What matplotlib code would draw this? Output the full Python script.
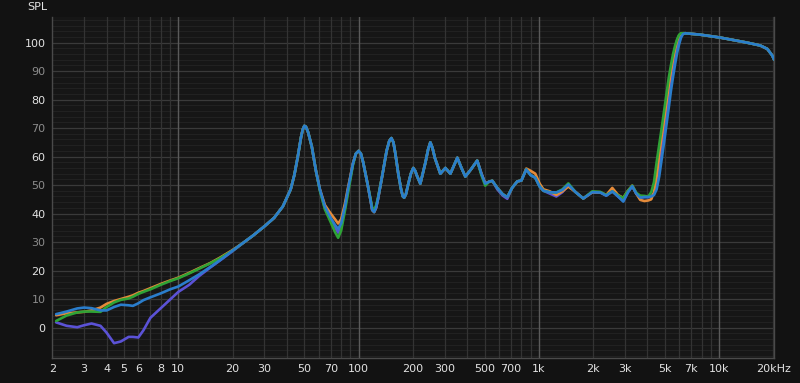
import numpy as np
import matplotlib
matplotlib.use("Agg")
import matplotlib.pyplot as plt

# frequency grid (Hz) shared by all four measurements, one row per band
freq = [2.1, 2.4, 2.75, 3.0, 3.3, 3.7, 4.0, 4.4, 4.8, 5.3, 5.6, 6.0, 6.4, 7.0, 8.0, 9.0,
        10, 11.5, 13, 15, 17, 20, 23, 26, 30, 34, 38, 42, 44, 46, 48, 49, 50, 51, 52.5, 55, 58, 61, 65,
        70, 74, 77, 80, 84, 87, 93, 96.5, 100, 103, 106, 112, 117, 119, 122, 125, 128, 135, 143, 148, 152, 156, 160, 166, 172, 176, 179, 183, 188,
        195, 201, 206, 210, 220, 235, 243, 250, 257, 265, 284, 303, 323, 353, 372, 391, 420, 455, 480, 504,
        530, 552, 588, 630, 668, 710, 759, 800, 851, 900, 955, 1010, 1060, 1150, 1250, 1350,
        1457, 1594, 1763, 1978, 2191, 2365, 2554, 2750, 2939, 3120, 3297, 3470, 3650, 3850,
        4044, 4200, 4350, 4500, 4650, 4800, 4950, 5100, 5250, 5400, 5550, 5700, 5850, 6000,
        6150, 6300, 6500, 7000, 7850, 10100, 14300, 16900, 18500, 19700, 20200]

spl_blue = [4.7, 5.6, 6.7, 7.0, 6.8, 6.0, 6.0, 7.2, 8.0, 7.8, 7.6, 8.5, 9.6, 10.6, 12.0, 13.4,
            14.4, 16.6, 18.6, 21.2, 23.6, 27.0, 29.8, 32.3, 35.5, 38.5, 42.5, 48.5, 53.5, 60, 67, 69.5, 70.8, 70.5, 68.5, 63.5, 55, 48.5, 42.5,
            38.5, 36, 34.6, 36.5, 42.5, 48, 57.5, 61, 62, 61, 58, 50.5, 44, 41.2, 40.5, 42, 45, 53, 62, 65.5, 66.5, 65, 61, 54, 48.5, 46, 45.6, 46.8, 50,
            54, 56, 55, 53.5, 50.5, 58, 62.5, 65, 63, 59.5, 54, 56, 54, 59.6, 56, 53, 55.5, 58.6, 54, 50.5,
            51.2, 51.5, 49, 46.8, 45.8, 49, 51.3, 51.6, 55.5, 53.5, 52.6, 49.5, 48, 47.5, 47.4, 48.3,
            50.2, 47.6, 45.3, 47.5, 47.4, 46.3, 47.8, 46, 44.2, 47.5, 49.6, 47, 45.6, 45.8,
            45.8, 46, 46.5, 48.5, 53, 59, 65, 71, 77, 83, 88, 92.5, 96.5, 99.5,
            101.8, 103, 103.3, 103.1, 102.8, 101.8, 100, 99, 97.8, 95.5, 94]

spl_orange = [4.3, 5.0, 5.3, 5.5, 6.0, 7.0, 8.3, 9.3, 10.0, 10.8, 11.3, 12.2, 12.8, 13.8, 15.3, 16.5,
              17.5, 19.2, 20.8, 22.6, 24.5, 27.2, 29.8, 32.3, 35.5, 38.5, 42.5, 48.5, 53.5, 60, 67, 69.5, 70.8, 70.5, 68.5, 63.5, 55, 48.5, 43,
              40, 38, 36.5, 38, 43.5, 48.5, 57.5, 61, 62, 61, 58, 50.5, 44, 41.2, 40.5, 42, 45, 53, 62, 65.5, 66.5, 65, 61, 54, 48.5, 46, 45.6, 46.8, 50,
              54, 56, 55, 53.5, 50.5, 58, 62.5, 65, 63, 59.5, 54, 56, 54, 59.6, 56, 53, 55.5, 58.6, 54, 50.5,
              51.2, 51.5, 49, 46.8, 45.8, 49, 51.3, 51.6, 55.8, 55, 54, 50.5, 48.5, 47.8, 46.5, 47.8,
              49.5, 47.6, 45.3, 47.5, 47.5, 46.5, 49, 46.5, 45.5, 48, 49.8, 47, 44.8, 44.4,
              44.6, 45, 47.5, 53, 61, 67, 73, 79, 85, 90, 94.5, 98, 100.8, 102.5,
              103.2, 103.3, 103.3, 103.1, 102.8, 101.8, 100, 99, 97.8, 95.5, 94]

spl_green = [2.3, 4.2, 5.3, 5.6, 5.6, 5.5, 7.2, 8.8, 9.7, 10.2, 10.8, 11.8, 12.5, 13.4, 15.0, 16.3,
             17.3, 19.0, 20.6, 22.5, 24.3, 27.0, 29.8, 32.3, 35.5, 38.5, 42.5, 48.5, 53.5, 60, 67, 69.5, 70.8, 70.5, 68.5, 63.5, 55, 48, 41.5,
             37, 33.5, 31.5, 34, 41, 46.5, 57, 61, 62, 61, 58, 50.5, 44.5, 42, 41.5, 42.8, 45.5, 53, 62, 65.5, 66.5, 65, 61, 54, 48.5, 46, 45.6, 46.8, 50,
             54, 56, 55, 53.5, 50.5, 58, 62.5, 65, 63, 59.5, 54, 56, 54, 59.6, 56, 53, 55.5, 58.6, 53.5, 49.8,
             51.2, 51.5, 49, 46.8, 45.8, 49, 51.3, 51.6, 55.5, 53.5, 52.6, 49.5, 48, 47.5, 47.4, 48.5,
             50.6, 47.6, 45.3, 47.8, 47.6, 46.5, 47.8, 46.3, 45.5, 48, 49.8, 47.3, 46.3, 46.2,
             46, 47.5, 51, 58, 64, 70, 76, 82, 87.5, 92, 96, 99, 101.3, 102.8,
             103.3, 103.3, 103.3, 103.1, 102.8, 101.8, 100, 99, 97.8, 95.5, 94]

spl_purple = [1.8, 0.6, 0.1, 0.8, 1.4, 0.6, -1.8, -5.5, -4.9, -3.3, -3.3, -3.5, -1.0, 3.4, 6.8, 9.8,
              12.5, 15.0, 18.0, 21.0, 23.5, 26.8, 29.8, 32.3, 35.5, 38.5, 42.5, 48.5, 53.5, 60, 67, 69.5, 70.8, 70.5, 68.5, 63.5, 55, 48.3, 42,
              38, 35, 33.3, 35.5, 42, 47.5, 57.5, 61, 62, 61, 58, 50.5, 44, 41.4, 40.8, 42.2, 45, 53, 62, 65.5, 66.5, 65, 61, 54, 48.5, 46, 45.6, 46.8, 50,
              54, 56, 55, 53.5, 50.5, 58, 62.5, 65, 63, 59.5, 54, 56, 54, 59.6, 56, 53, 55.5, 58.6, 54, 50.5,
              51.2, 51.5, 48.5, 46.3, 45.2, 49, 51.3, 51.6, 55.5, 53.5, 52.6, 49.5, 48, 47, 46, 47.5,
              50, 47.6, 45.3, 47.5, 47.4, 46.3, 47.8, 46, 44.5, 47.5, 49.6, 47, 45.6, 45.8,
              45.8, 46, 47, 50, 56, 62, 68, 74, 80, 86, 91, 95.5, 99, 101.5,
              102.8, 103.2, 103.3, 103.1, 102.8, 101.8, 100, 99, 97.8, 95.5, 94]

series = [
    ("purple", spl_purple, "#5b52d6"),
    ("orange", spl_orange, "#e58b3a"),
    ("green", spl_green, "#2ea336"),
    ("blue", spl_blue, "#2a7dcc"),
]
for name, vals, col in series:
    assert len(vals) == len(freq), (name, len(vals), len(freq))

x_ticks = [2, 3, 4, 5, 6, 8, 10, 20, 30, 50, 70, 100, 200, 300, 500, 700,
           1000, 2000, 3000, 5000, 7000, 10000, 20000]
x_labels = ["2", "3", "4", "5", "6", "8", "10", "20", "30", "50", "70", "100", "200", "300",
            "500", "700", "1k", "2k", "3k", "5k", "7k", "10k", "20kHz"]
y_ticks = [0, 10, 20, 30, 40, 50, 60, 70, 80, 90, 100]

fig = plt.figure(figsize=(8.0, 3.83), dpi=100, facecolor="#121212")
ax = fig.add_axes([0.0654, 0.0653, 0.9021, 0.8903], facecolor="#161616")
ax.set_xscale("log")
ax.set_xlim(2, 20150)
ax.set_ylim(-10.7, 109)

# grid: faint 2 dB lines, stronger 10 dB lines, decade lines brightest
for v in np.arange(-10, 110, 2):
    ax.axhline(v, color="#212121", lw=0.8, zorder=0)
for v in y_ticks:
    ax.axhline(v, color="#3a3a3a", lw=0.9, zorder=0)
for dec in [1, 10, 100, 1000, 10000]:
    for m in range(2, 10):
        f = dec * m
        if 2 < f < 20150:
            ax.axvline(f, color="#333333", lw=0.9, zorder=0)
    if dec >= 10:
        ax.axvline(dec, color="#5a5a5a", lw=1.0, zorder=0)

for name, vals, col in series:
    ax.plot(freq, vals, color=col, lw=1.9, solid_capstyle="round",
            solid_joinstyle="round", zorder=3)

ax.set_xticks(x_ticks)
ax.set_xticklabels(x_labels)
ax.xaxis.set_minor_locator(matplotlib.ticker.NullLocator())
ax.set_yticks(y_ticks)
ax.set_yticklabels([str(v) for v in y_ticks])
ax.tick_params(axis="both", length=0, labelsize=8, colors="#e2e2e2")
ax.tick_params(axis="y", pad=5)
ax.tick_params(axis="x", pad=4)
for lab, v in zip(ax.get_yticklabels(), y_ticks):
    lab.set_color("#e2e2e2" if v % 20 == 0 else "#8c8c8c")

for s in ax.spines.values():
    s.set_color("#4a4a4a")
    s.set_linewidth(1.0)
ax.spines["top"].set_visible(False)

fig.text(0.047, 0.982, "SPL", color="#e2e2e2", fontsize=8, ha="center", va="center")

fig.savefig("out.png", dpi=100, facecolor=fig.get_facecolor())
